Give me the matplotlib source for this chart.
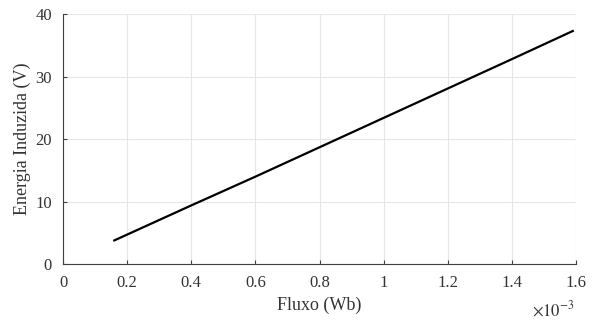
import numpy as np
import matplotlib
matplotlib.use("Agg")
import matplotlib.pyplot as plt
from matplotlib.ticker import FuncFormatter, MultipleLocator

plt.rcParams["font.family"] = ["Liberation Serif", "DejaVu Serif"]
plt.rcParams["mathtext.fontset"] = "stix"

# Data (flux in Wb, induced emf in V)
flux = [0.16e-3, 0.40e-3, 0.60e-3, 0.80e-3, 1.00e-3, 1.20e-3, 1.40e-3, 1.59e-3]
energia = [3.8, 9.4, 14.0, 18.7, 23.4, 28.1, 32.8, 37.3]

fig = plt.figure(figsize=(6.0, 3.21), dpi=100)
ax = fig.add_axes([0.105, 0.177, 0.855, 0.779])

ax.plot(flux, energia, color="black", linewidth=1.6)

ax.set_xlim(0, 1.6e-3)
ax.set_ylim(0, 40)
ax.xaxis.set_major_locator(MultipleLocator(0.2e-3))
ax.yaxis.set_major_locator(MultipleLocator(10))
ax.xaxis.set_major_formatter(FuncFormatter(lambda v, p: f"{v * 1e3:g}"))

ax.grid(True, color="#e6e6e6", linewidth=0.8)
ax.set_axisbelow(True)
for s in ["top", "right"]:
    ax.spines[s].set_visible(False)
for s in ["left", "bottom"]:
    ax.spines[s].set_color("#404040")
    ax.spines[s].set_linewidth(0.8)
ax.tick_params(direction="in", length=3, colors="#404040", labelsize=12,
               labelcolor="#333333", pad=8)

ax.set_xlabel("Fluxo (Wb)", fontsize=13, color="#333333", labelpad=4)
ax.set_ylabel("Energia Induzida (V)", fontsize=13, color="#333333", labelpad=3)
ax.text(0.955, -0.183, r"$\times10^{-3}$", transform=ax.transAxes, ha="center",
        va="center", fontsize=12, color="#333333")

plt.savefig("out.png", dpi=100)
